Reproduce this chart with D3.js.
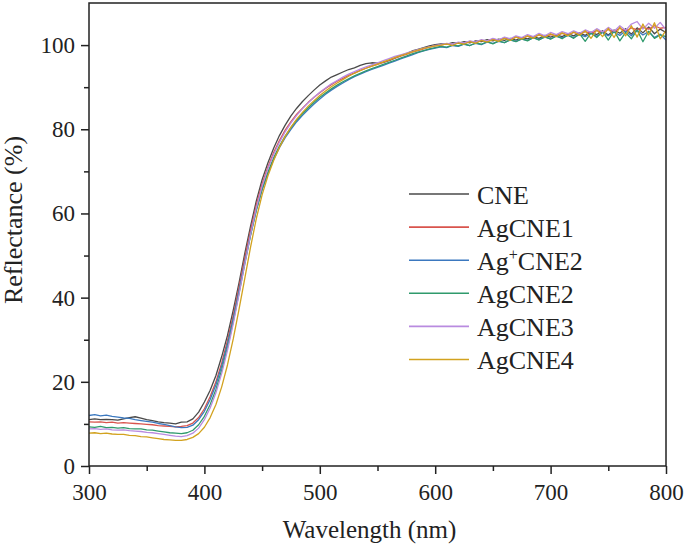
<!DOCTYPE html>
<html><head><meta charset="utf-8">
<script src="https://cdn.jsdelivr.net/npm/d3@7"></script>
<style>body{margin:0;background:#fff}svg{display:block}</style>
</head><body><div id="chart"></div>
<script>
const wavelengths = [300,305,310,315,320,325,330,335,340,345,350,355,360,365,370,375,380,385,390,395,
400,405,410,415,420,425,430,435,440,445,450,455,460,465,470,475,480,485,490,495,
500,505,510,515,520,525,530,535,540,545,550,555,560,565,570,575,580,585,590,595,
600,605,610,615,620,625,630,635,640,645,650,655,660,665,670,675,680,685,690,695,
700,705,710,715,720,725,730,735,740,745,750,755,760,765,770,775,780,785,790,795,800];

const seriesNames = ["CNE","AgCNE1","Ag+CNE2","AgCNE2","AgCNE3","AgCNE4"];
const seriesColors = ["#4a4a4a","#d9544d","#3b78bf","#2f9a6c","#b98be0","#d2a21f"];

const CNE = [11.0,11.2,11.0,11.1,11.0,10.9,11.2,11.5,11.7,11.4,11.0,10.8,10.5,10.3,10.2,10.0,10.4,10.5,11.2,12.8,
15.2,18.0,21.5,26.0,31.0,37.0,43.5,50.5,57.0,63.0,68.0,72.0,75.5,78.5,81.0,83.2,85.0,86.6,88.0,89.3,
90.5,91.5,92.4,93.0,93.6,94.2,94.6,95.2,95.6,95.8,95.7,95.9,96.3,96.9,97.5,98.0,98.6,99.0,99.4,99.8,
100.1,100.3,100.2,100.6,100.4,100.8,100.5,101.0,100.8,101.3,101.0,101.4,101.1,101.6,101.2,101.8,101.5,102.0,101.6,102.3,
101.9,102.4,102.0,102.7,102.2,102.9,102.3,103.1,102.5,103.4,102.4,103.6,102.8,103.9,102.6,104.1,102.9,104.3,102.7,103.8,103.0];

const AgCNE1 = [10.5,10.4,10.5,10.3,10.4,10.2,10.3,10.2,10.1,10.0,9.9,9.8,9.6,9.5,9.4,9.3,9.4,9.6,10.2,11.5,
13.6,16.5,20.0,24.5,29.8,35.8,42.5,49.5,56.0,62.0,67.0,71.0,74.5,77.3,79.8,81.8,83.6,85.0,86.4,87.6,
88.7,89.7,90.6,91.4,92.1,92.8,93.4,94.0,94.5,95.0,95.4,95.9,96.4,96.9,97.4,97.8,98.3,98.7,99.1,99.5,
99.8,100.0,100.3,100.1,100.6,100.4,100.9,100.7,101.1,101.0,101.4,101.2,101.7,101.4,101.9,101.6,102.1,101.9,102.4,102.0,
102.5,102.3,102.8,102.4,103.0,102.6,103.2,102.8,103.5,103.0,103.7,103.2,104.0,103.3,104.1,103.6,104.3,103.8,104.6,104.0,104.2];

const AgPlusCNE2 = [12.0,12.2,11.9,12.1,11.8,11.6,11.4,11.3,11.0,10.8,10.6,10.4,10.1,9.9,9.6,9.3,9.1,9.2,9.7,11.0,
13.0,15.8,19.3,23.8,29.0,35.0,41.6,48.5,55.0,60.8,65.6,69.5,72.8,75.6,78.0,80.0,81.8,83.3,84.7,86.0,
87.2,88.3,89.3,90.2,91.0,91.8,92.5,93.1,93.7,94.2,94.7,95.2,95.7,96.2,96.7,97.2,97.7,98.2,98.6,99.0,
99.3,99.6,99.4,99.9,99.7,100.2,99.9,100.4,100.1,100.7,100.4,100.9,100.6,101.2,100.9,101.4,101.1,101.7,101.3,101.9,
101.5,102.1,101.7,102.3,101.8,102.5,102.0,102.8,102.1,103.0,102.2,103.1,102.3,103.4,102.2,103.5,102.4,103.2,101.8,102.6,101.2];

const AgCNE2 = [9.3,9.2,9.4,9.1,9.2,9.0,9.1,8.9,8.8,8.8,8.6,8.5,8.3,8.1,7.9,7.8,7.7,7.9,8.5,9.8,
11.8,14.6,18.2,22.8,28.2,34.3,41.0,48.0,54.8,60.8,65.8,69.8,73.2,76.0,78.4,80.4,82.2,83.7,85.1,86.4,
87.6,88.6,89.6,90.5,91.3,92.0,92.7,93.3,93.9,94.4,94.9,95.4,95.9,96.4,96.9,97.4,97.9,98.3,98.7,99.1,
99.4,99.7,99.5,100.0,99.8,100.3,99.9,100.5,100.2,100.8,100.3,101.0,100.6,101.3,100.8,101.5,101.0,101.8,101.2,102.0,
101.4,102.2,101.5,102.4,101.6,102.7,100.9,102.9,101.8,103.2,101.2,103.4,101.0,103.0,101.5,103.6,100.8,103.3,101.6,102.4,102.0];

const AgCNE3 = [8.8,8.9,8.7,8.8,8.6,8.5,8.6,8.4,8.3,8.2,8.0,7.9,7.7,7.5,7.3,7.1,7.0,7.2,7.8,9.0,
11.0,13.8,17.4,22.0,27.5,33.8,40.8,48.0,55.0,61.3,66.5,70.6,74.0,76.9,79.4,81.5,83.3,84.9,86.3,87.6,
88.8,89.8,90.8,91.6,92.4,93.1,93.7,94.3,94.8,95.3,95.8,96.3,96.8,97.3,97.7,98.1,98.5,98.9,99.3,99.6,
99.9,100.1,100.4,100.2,100.7,100.5,101.0,100.7,101.3,101.0,101.6,101.2,101.9,101.5,102.2,101.8,102.5,102.0,102.8,102.2,
103.0,102.5,103.2,102.7,103.4,102.8,103.6,103.0,103.9,103.1,104.2,103.3,104.6,103.5,105.0,105.6,103.8,105.2,104.0,105.4,103.6];

const AgCNE4 = [7.8,7.9,7.7,7.8,7.6,7.5,7.5,7.3,7.2,7.0,6.9,6.7,6.5,6.3,6.2,6.1,6.1,6.3,6.8,7.7,
9.2,11.5,14.6,18.8,24.0,30.2,37.2,44.6,52.0,58.8,64.4,68.9,72.6,75.7,78.3,80.5,82.4,84.0,85.5,86.8,
88.0,89.1,90.1,91.0,91.8,92.6,93.3,93.9,94.5,95.0,95.5,96.0,96.5,97.0,97.5,97.9,98.4,98.8,99.2,99.5,
99.8,100.0,100.3,99.9,100.5,100.2,100.8,100.4,101.1,100.7,101.3,100.9,101.6,101.1,101.9,101.4,102.2,101.6,102.5,101.8,
102.7,102.0,102.9,102.2,103.1,102.3,103.4,101.6,103.6,102.0,104.0,101.8,104.3,102.2,104.6,101.9,105.0,102.4,105.3,101.5,103.5];

const seriesValues = [CNE, AgCNE1, AgPlusCNE2, AgCNE2, AgCNE3, AgCNE4];
const xTicks = [300,400,500,600,700,800];
const xMinor = [350,450,550,650,750];
const yTicks = [0,20,40,60,80,100];
const yMinor = [10,30,50,70,90];

const FONT = '"Liberation Serif"';
const W = 685, H = 549;
const m = {left:89, top:3, right:19, bottom:83};
const iw = W - m.left - m.right, ih = H - m.top - m.bottom;

const svg = d3.select("#chart").append("svg").attr("width", W).attr("height", H);
const x = d3.scaleLinear().domain([300,800]).range([m.left, m.left+iw]);
const y = d3.scaleLinear().domain([0,110]).range([m.top+ih, m.top]);

const line = d3.line().x((d,i)=>x(wavelengths[i])).y(d=>y(d));
const plot = svg.append("g");
seriesValues.forEach((vals,k)=>{
  plot.append("path").datum(vals).attr("d", line)
    .attr("fill","none").attr("stroke", seriesColors[k]).attr("stroke-width",1.3)
    .attr("stroke-linejoin","round");
});

// frame
svg.append("rect").attr("x", m.left).attr("y", m.top).attr("width", iw).attr("height", ih)
  .attr("fill","none").attr("stroke","#222").attr("stroke-width",1.5);

// x axis
const gx = svg.append("g").attr("transform",`translate(0,${m.top+ih})`);
gx.call(d3.axisBottom(x).tickValues(xTicks).tickSize(8).tickFormat(d3.format("d")));
gx.append("g").call(d3.axisBottom(x).tickValues(xMinor).tickSize(5).tickFormat(""));
gx.selectAll(".domain").remove();
gx.selectAll("line").attr("stroke","#222").attr("stroke-width",1.5);
gx.selectAll("text").style("font-family",FONT).style("font-size","23px").attr("fill","#222").attr("dy","1.0em");

// y axis
const gy = svg.append("g").attr("transform",`translate(${m.left},0)`);
gy.call(d3.axisLeft(y).tickValues(yTicks).tickSize(8).tickFormat(d3.format("d")));
gy.append("g").call(d3.axisLeft(y).tickValues(yMinor).tickSize(5).tickFormat(""));
gy.selectAll(".domain").remove();
gy.selectAll("line").attr("stroke","#222").attr("stroke-width",1.5);
gy.selectAll("text").style("font-family",FONT).style("font-size","23px").attr("fill","#222").attr("x",-14);

// axis titles
svg.append("text").attr("x", m.left+iw/2-8).attr("y", 538).attr("text-anchor","middle")
  .style("font-family",FONT).style("font-size","25px").attr("fill","#222").text("Wavelength (nm)");
svg.append("text").attr("transform",`translate(22,220) rotate(-90)`).attr("text-anchor","middle")
  .style("font-family",FONT).style("font-size","26px").attr("fill","#222").text("Reflectance (%)");

// legend
const lg = svg.append("g");
seriesNames.forEach((name,k)=>{
  const yy = 194 + k*33.1;
  lg.append("line").attr("x1",409).attr("x2",469).attr("y1",yy).attr("y2",yy)
    .attr("stroke",seriesColors[k]).attr("stroke-width",1.6);
  const t = lg.append("text").attr("x",477).attr("y",yy+9.5)
    .style("font-family",FONT).style("font-size","26px").attr("fill","#222");
  if (name.indexOf("+")>=0) {
    t.append("tspan").text("Ag");
    t.append("tspan").attr("dy",-10).style("font-size","16px").text("+");
    t.append("tspan").attr("dy",10).text("CNE2");
  } else t.text(name);
});
</script></body></html>
